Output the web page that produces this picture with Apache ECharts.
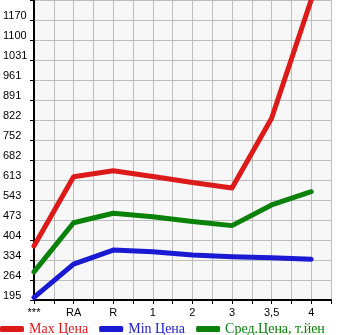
<!DOCTYPE html>
<html>
<head>
<meta charset="utf-8">
<script src="https://cdn.jsdelivr.net/npm/echarts@6/dist/echarts.min.js"></script>
<style>html,body{margin:0;padding:0;background:#fff}#c{width:345px;height:335px}</style>
</head>
<body>
<div id="c"></div>
<script>
var categories = ['***', 'RA', 'R', '1', '2', '3', '3,5', '4'];
var yTickLabels = ['195', '264', '334', '404', '473', '543', '613', '682', '752', '822', '891', '961', '1031', '1100', '1170'];
var maxPrice = [383, 624, 645, 625, 604, 585, 828, 1240];
var minPrice = [204, 320, 369, 363, 352, 346, 342, 337];
var avgPrice = [293, 464, 497, 485, 468, 454, 526, 572];
var seriesNames = ['Max Цена', 'Min Цена', 'Сред.Цена, т.йен'];
var colors = ['#dd1a1a', '#1a1ad2', '#0a820a'];

var yMin = 195, yStep = 69.643;
function toPts(arr) { return arr.map(function (v, i) { return [i, v]; }); }

var chart = echarts.init(document.getElementById('c'));
chart.setOption({
  animation: false,
  grid: { left: 31, right: 14, top: 0, bottom: 35, show: true, backgroundColor: '#f7f7f7', borderWidth: 0 },
  xAxis: {
    type: 'value', min: 0, max: 7.5, interval: 0.5,
    axisLine: { show: true, onZero: false, lineStyle: { color: '#000', width: 2 } },
    axisTick: { show: true, length: 4, lineStyle: { color: '#000' } },
    splitLine: { show: true, lineStyle: { color: '#bdbdbd', width: 1 } },
    axisLabel: {
      margin: 7, color: '#000', fontFamily: 'Liberation Sans', fontSize: 11,
      showMinLabel: true, showMaxLabel: true,
      formatter: function (v) { var i = Math.round(v * 2); return (i % 2 === 0 && categories[i / 2] !== undefined) ? categories[i / 2] : ''; }
    }
  },
  yAxis: {
    type: 'value', min: yMin, max: yMin + yStep * 15, interval: yStep,
    axisLine: { show: true, lineStyle: { color: '#000', width: 2 } },
    axisTick: { show: true, length: 4, lineStyle: { color: '#000' } },
    splitLine: { show: true, lineStyle: { color: '#bdbdbd', width: 1 } },
    axisLabel: {
      align: 'left', verticalAlign: 'bottom', lineHeight: 8, margin: 31, color: '#000', fontFamily: 'Liberation Sans', fontSize: 11,
      showMinLabel: true, showMaxLabel: true,
      formatter: function (v) { var i = Math.round((v - yMin) / yStep); return yTickLabels[i] !== undefined ? yTickLabels[i] : ''; }
    }
  },
  legend: {
    left: 0, top: 322, itemWidth: 24, itemHeight: 6, itemGap: 11, icon: 'roundRect', padding: 0,
    textStyle: { fontFamily: 'Liberation Serif', fontSize: 14 },
    data: seriesNames.map(function (n, i) { return { name: n, textStyle: { color: colors[i] } }; })
  },
  series: [maxPrice, minPrice, avgPrice].map(function (d, i) {
    return {
      name: seriesNames[i], type: 'line', data: toPts(d), symbol: 'none', color: colors[i],
      lineStyle: { width: 5, color: colors[i], cap: 'round', join: 'round' }
    };
  })
});
</script>
</body>
</html>
